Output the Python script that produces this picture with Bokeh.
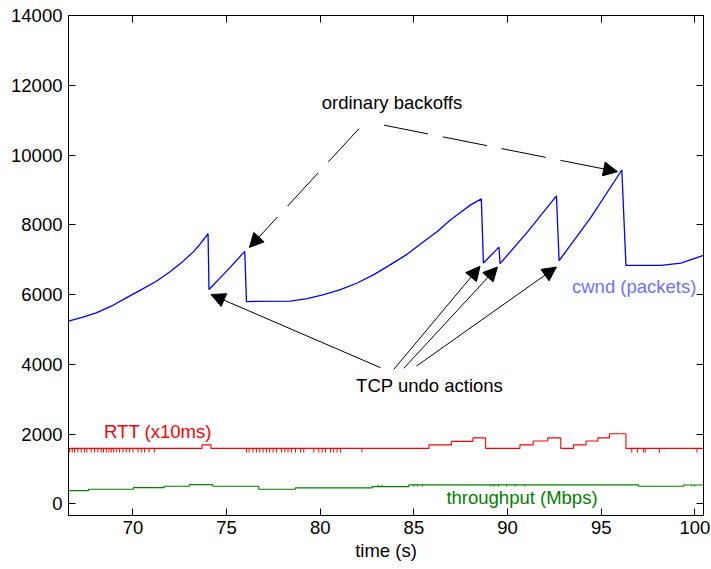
from bokeh.plotting import figure
from bokeh.models import Range1d, LinearAxis, FixedTicker, Label, Arrow, NormalHead
from bokeh.embed import file_html
from bokeh.resources import INLINE

# ---- data ----
x_ticks = [70, 75, 80, 85, 90, 95, 100]
y_ticks = [0, 2000, 4000, 6000, 8000, 10000, 12000, 14000]

cwnd_t = [66.56, 67.33, 68.04, 68.84, 69.64, 70.45, 71.25, 71.96, 72.67, 73.21,
          73.56, 74.01, 74.06, 74.99, 75.97,
          76.06, 78.41, 79.30, 80.19, 81.08, 81.97, 82.86, 83.75, 84.65, 85.53,
          86.25, 86.96, 87.50, 88.03, 88.60, 88.71,
          89.54, 89.60, 91.10, 92.61, 92.75, 94.42, 96.10, 96.32, 98.20, 99.25, 100.46]
cwnd_v = [5237, 5351, 5474, 5666, 5903, 6143, 6380, 6646, 6951, 7217,
          7429, 7743, 6143, 6666, 7237,
          5800, 5810, 5886, 6000, 6143, 6331, 6571, 6857, 7160, 7523,
          7809, 8143, 8360, 8571, 8743, 6903,
          7360, 6886, 7820, 8829, 6971, 8190, 9571, 6837, 6837, 6903, 7123]

rtt_t = [66.56, 73.69, 74.17, 85.80, 87.00, 88.15, 88.83, 90.66, 91.37, 92.14,
         92.84, 93.52, 94.19, 94.82, 95.44, 96.32, 100.46]
rtt_v = [1590, 1690, 1590, 1690, 1790, 1890, 1590, 1690, 1800, 1890,
         1590, 1690, 1800, 1890, 2010, 1590, 1590]
rtt_spike_t = [66.61, 66.76, 66.88, 67.06, 67.24, 67.42, 67.54, 67.77, 67.95, 68.13,
               68.31, 68.43, 68.58, 68.72, 68.84, 68.97, 69.11, 69.29, 69.47, 69.64,
               69.82, 70.00, 70.27, 70.45, 70.62, 70.86, 71.16,
               76.06, 76.20, 76.41, 76.59, 76.77, 76.95, 77.13, 77.30, 77.48, 77.66,
               77.93, 78.11, 78.28, 78.46, 78.68, 78.95, 79.12, 79.66, 79.92, 80.10,
               80.28, 80.55, 80.72, 80.90, 81.08, 82.22,
               96.63, 96.94, 97.26, 97.35, 98.11, 100.11]
rtt_spike_base = 1590
rtt_spike_low = 1470

thr_t = [66.56, 67.63, 70.03, 71.67, 73.01, 74.26, 76.72, 78.67, 82.78, 84.73,
         96.99, 99.40, 100.46]
thr_v = [380, 417, 466, 503, 551, 503, 417, 457, 494, 545, 503, 541, 541]
thr_dip_t = [83.10, 83.30, 85.00, 85.18, 85.45, 89.10, 89.27, 89.51, 89.95, 90.40,
             90.93, 99.84, 100.00]
thr_dip_top = 545
thr_dip_low = 495

# annotations: texts and arrows (tail x, tail y, tip x, tip y)
backoff_label = ("ordinary backoffs", 83.83, 11503)
backoff_arrows = [(82.06, 10751, 76.22, 7351), (83.40, 10857, 95.87, 9523)]
undo_label = ("TCP undo actions", 85.84, 3380)
undo_arrows = [(83.22, 3903, 74.17, 6000), (83.93, 3857, 88.53, 6809),
               (84.46, 3886, 89.46, 6789), (85.14, 3951, 92.61, 6789)]
series_labels = [("cwnd (packets)", 96.76, 6237, "#7070ff"),
                 ("RTT (x10ms)", 71.33, 2074, "#ff0000"),
                 ("throughput (Mbps)", 90.77, 171, "#008000")]

FONT = "Liberation Sans"
FS = "18.5px"

p = figure(width=711, height=569, output_backend="svg", toolbar_location=None,
           x_range=Range1d(66.56, 100.46), y_range=Range1d(-334, 14000),
           min_border_left=68, min_border_right=8, min_border_top=15, min_border_bottom=54,
           background_fill_color="white", border_fill_color="white")
p.grid.visible = False
p.outline_line_color = "black"
p.outline_line_width = 1

for ax in (p.xaxis[0], p.yaxis[0]):
    ax.major_tick_in = 7
    ax.major_tick_out = 0
    ax.minor_tick_line_color = None
    ax.major_label_text_font = FONT
    ax.major_label_text_font_size = FS
    ax.major_label_text_color = "black"
    ax.axis_line_color = "black"
    ax.major_tick_line_color = "black"
p.xaxis[0].ticker = FixedTicker(ticks=x_ticks)
p.yaxis[0].ticker = FixedTicker(ticks=y_ticks)
p.yaxis[0].major_label_standoff = 6
p.xaxis[0].major_label_standoff = 5
p.xaxis[0].axis_label = "time (s)"
p.xaxis[0].axis_label_text_font = FONT
p.xaxis[0].axis_label_text_font_size = FS
p.xaxis[0].axis_label_text_font_style = "normal"
p.xaxis[0].axis_label_text_color = "black"
p.xaxis[0].axis_label_standoff = 3

right = LinearAxis(ticker=FixedTicker(ticks=y_ticks),
                   major_label_overrides={t: "" for t in y_ticks})
top = LinearAxis(ticker=FixedTicker(ticks=x_ticks),
                 major_label_overrides={t: "" for t in x_ticks})
for ax in (right, top):
    ax.major_tick_in = 7
    ax.major_tick_out = 0
    ax.minor_tick_line_color = None
    ax.major_label_standoff = 0
    ax.axis_line_color = "black"
    ax.major_tick_line_color = "black"
p.add_layout(right, "right")
p.add_layout(top, "above")

# series
p.line(cwnd_t, cwnd_v, line_color="#0000ff", line_width=1.3)
p.step(rtt_t, rtt_v, mode="after", line_color="#ff0000", line_width=1.1)
p.segment(x0=rtt_spike_t, y0=[rtt_spike_base] * len(rtt_spike_t),
          x1=rtt_spike_t, y1=[rtt_spike_low] * len(rtt_spike_t),
          line_color="#ff0000", line_width=1)
p.step(thr_t, thr_v, mode="after", line_color="#008000", line_width=1.1)
p.segment(x0=thr_dip_t, y0=[thr_dip_top] * len(thr_dip_t),
          x1=thr_dip_t, y1=[thr_dip_low] * len(thr_dip_t),
          line_color="#008000", line_width=1)

# annotations
for (x0, y0, x1, y1) in backoff_arrows:
    p.add_layout(Arrow(end=NormalHead(size=14, fill_color="black", line_color="black"),
                       x_start=x0, y_start=y0, x_end=x1, y_end=y1,
                       line_color="black", line_width=1, line_dash="45 15"))
for (x0, y0, x1, y1) in undo_arrows:
    p.add_layout(Arrow(end=NormalHead(size=14, fill_color="black", line_color="black"),
                       x_start=x0, y_start=y0, x_end=x1, y_end=y1,
                       line_color="black", line_width=1))

for (txt, x, y) in (backoff_label, undo_label):
    p.add_layout(Label(x=x, y=y, text=txt, text_align="center", text_baseline="middle",
                       text_font=FONT, text_font_size=FS, text_color="black"))
for (txt, x, y, c) in series_labels:
    p.add_layout(Label(x=x, y=y, text=txt, text_align="center", text_baseline="middle",
                       text_font=FONT, text_font_size=FS, text_color=c))

open("out.html", "w").write(file_html(p, INLINE))
